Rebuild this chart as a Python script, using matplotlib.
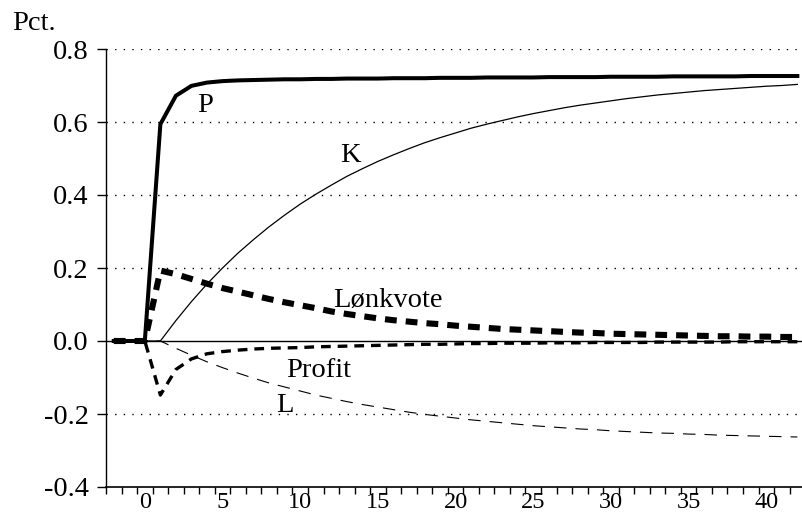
import matplotlib
matplotlib.use("Agg")
import matplotlib.pyplot as plt
from matplotlib.ticker import FixedLocator, NullFormatter

plt.rcParams['font.family'] = ['Liberation Serif', 'DejaVu Serif']
plt.rcParams['lines.scale_dashes'] = False

# Periods (years after the shock)
periods = list(range(-2, 43))

# Responses in percent
p_price = [0, 0, 0, 0.594, 0.672, 0.699, 0.708, 0.712, 0.714, 0.715, 0.716, 0.717,
           0.717, 0.718, 0.718, 0.719, 0.719, 0.719, 0.720, 0.720, 0.720, 0.721, 0.721,
           0.721, 0.722, 0.722, 0.722, 0.722, 0.723, 0.723, 0.723, 0.723, 0.724, 0.724,
           0.724, 0.724, 0.725, 0.725, 0.725, 0.725, 0.725, 0.726, 0.726, 0.726, 0.726]
k_capital = [0, 0, 0, 0, 0.056, 0.108, 0.156, 0.200, 0.241, 0.278, 0.313, 0.345,
             0.375, 0.402, 0.427, 0.451, 0.472, 0.492, 0.510, 0.527, 0.543, 0.557,
             0.570, 0.583, 0.594, 0.604, 0.614, 0.623, 0.631, 0.639, 0.646, 0.652,
             0.658, 0.664, 0.669, 0.674, 0.678, 0.682, 0.686, 0.689, 0.692, 0.695,
             0.698, 0.700, 0.703]
loenkvote = [0, 0, 0, 0.193, 0.183, 0.170, 0.157, 0.145, 0.135, 0.125, 0.115, 0.106,
             0.098, 0.090, 0.081, 0.074, 0.068, 0.062, 0.057, 0.053, 0.049, 0.046,
             0.042, 0.039, 0.036, 0.033, 0.031, 0.029, 0.027, 0.025, 0.023, 0.022,
             0.020, 0.019, 0.018, 0.017, 0.016, 0.015, 0.014, 0.013, 0.013, 0.012,
             0.012, 0.011, 0.011]
profit = [0, 0, 0, -0.148, -0.078, -0.049, -0.035, -0.029, -0.025, -0.022, -0.020,
          -0.019, -0.018, -0.016, -0.015, -0.014, -0.013, -0.012, -0.011, -0.010,
          -0.009, -0.009, -0.008, -0.007, -0.007, -0.006, -0.006, -0.006, -0.005,
          -0.005, -0.005, -0.004, -0.004, -0.004, -0.004, -0.003, -0.003, -0.003,
          -0.003, -0.003, -0.002, -0.002, -0.002, -0.002, -0.002]
l_employment = [0, 0, 0, 0, -0.020, -0.039, -0.057, -0.073, -0.088, -0.102, -0.115,
                -0.126, -0.137, -0.148, -0.157, -0.166, -0.174, -0.181, -0.188, -0.195,
                -0.201, -0.206, -0.211, -0.216, -0.220, -0.224, -0.228, -0.232, -0.235,
                -0.238, -0.241, -0.243, -0.246, -0.248, -0.250, -0.252, -0.253, -0.255,
                -0.256, -0.258, -0.259, -0.260, -0.261, -0.262, -0.263]

x_labels = [0, 5, 10, 15, 20, 25, 30, 35, 40]
y_ticks = [-0.4, -0.2, 0.0, 0.2, 0.4, 0.6, 0.8]

fig = plt.figure(figsize=(8.02, 5.18), dpi=100)
ax = fig.add_axes([106 / 802, 31 / 518, 1 - 106 / 802, 438 / 518])

# dotted reference lines and solid zero line
for yv in y_ticks:
    if yv == -0.4:
        continue
    if yv == 0.0:
        ax.axhline(0, color='black', lw=1.0, zorder=1)
    else:
        ax.axhline(yv, color='black', lw=1.0, linestyle=(0, (1.0, 5.2)), zorder=1)

ax.plot(periods, p_price, color='black', lw=2.9, solid_joinstyle='miter', zorder=4)
ax.plot(periods, k_capital, color='black', lw=0.9, zorder=3)
ax.plot(periods, l_employment, color='black', lw=0.8, linestyle=(0, (9, 6.5)), zorder=3)
ax.plot(periods, profit, color='black', lw=2.4, linestyle=(0, (7, 5)), zorder=5)
ax.plot(periods, loenkvote, color='black', lw=4.4, linestyle=(0, (8.5, 6.5)), zorder=6)

ax.set_xlim(-2.5, 42.3)
ax.set_ylim(-0.4, 0.8)

for side in ('top', 'right'):
    ax.spines[side].set_visible(False)
ax.spines['left'].set_linewidth(1.0)
ax.spines['bottom'].set_linewidth(1.2)

ax.set_yticks(y_ticks)
ax.set_yticklabels([f"{v:.1f}" for v in y_ticks])
ax.tick_params(axis='y', direction='out', length=6.5, width=1.0, pad=6, labelsize=20.5)

ax.xaxis.set_major_locator(FixedLocator(x_labels))
ax.set_xticklabels([str(v) for v in x_labels])
ax.xaxis.set_minor_locator(FixedLocator([v + 0.5 for v in range(-3, 43)]))
ax.xaxis.set_minor_formatter(NullFormatter())
ax.tick_params(axis='x', which='major', length=0, pad=3.5, labelsize=17.5)
ax.tick_params(axis='x', which='minor', direction='out', length=5, width=1.0)

label_kw = dict(fontsize=20.5, ha='center', va='baseline', color='black')
ax.text(3.86, 0.627, 'P', **label_kw)
ax.text(13.2, 0.49, 'K', **label_kw)
ax.text(15.66, 0.093, 'Lønkvote', **label_kw)
ax.text(11.16, -0.099, 'Profit', **label_kw)
ax.text(9.0, -0.195, 'L', **label_kw)

fig.text(12 / 802, 1 - 30 / 518, 'Pct.', fontsize=20.5, ha='left', va='baseline')

fig.savefig('out.png', dpi=100)
